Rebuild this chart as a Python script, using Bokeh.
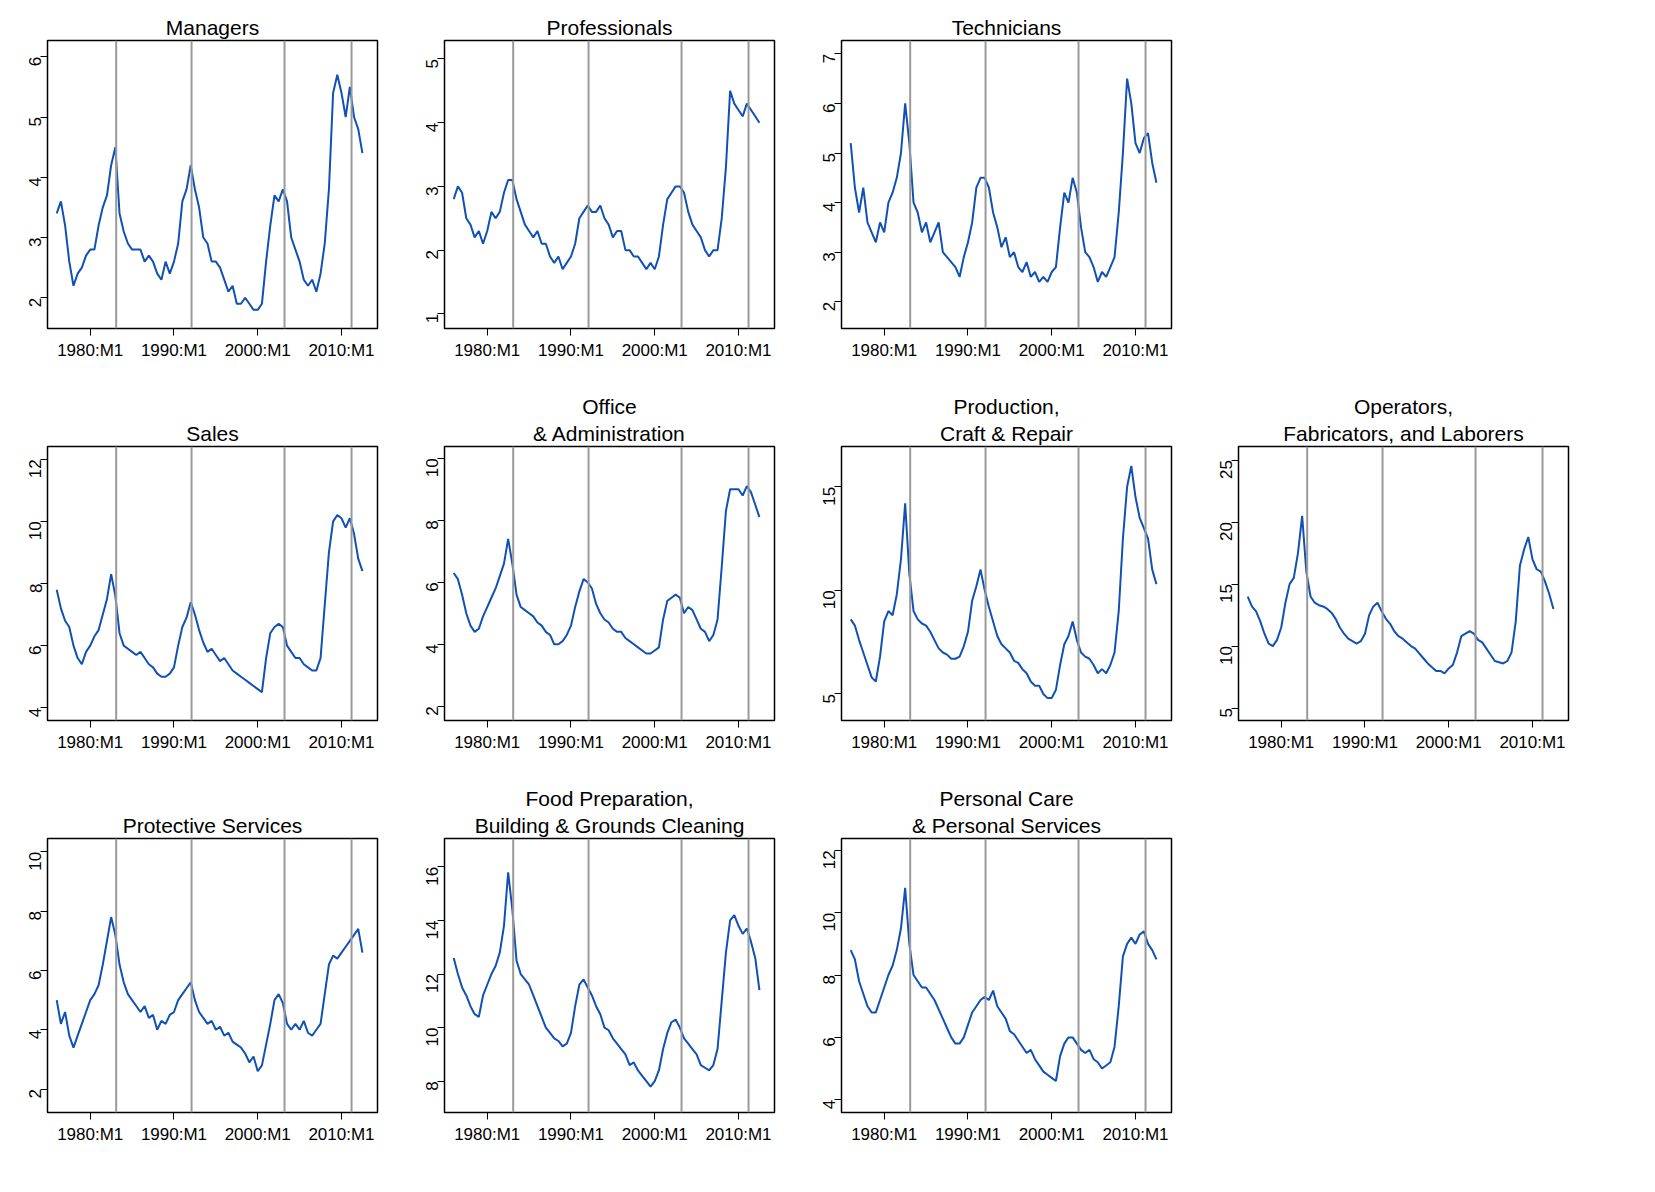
from math import pi

from bokeh.embed import file_html
from bokeh.layouts import gridplot
from bokeh.models import ColumnDataSource, FixedTicker, Span, Title
from bokeh.plotting import figure
from bokeh.resources import INLINE

# half-yearly readings, 1976.0 .. 2012.5
managers = [3.4, 3.6, 3.2, 2.6, 2.2, 2.4, 2.5, 2.7, 2.8, 2.8,
            3.2, 3.5, 3.7, 4.2, 4.5, 3.4, 3.1, 2.9, 2.8, 2.8,
            2.8, 2.6, 2.7, 2.6, 2.4, 2.3, 2.6, 2.4, 2.6, 2.9,
            3.6, 3.8, 4.2, 3.8, 3.5, 3.0, 2.9, 2.6, 2.6, 2.5,
            2.3, 2.1, 2.2, 1.9, 1.9, 2.0, 1.9, 1.8, 1.8, 1.9,
            2.6, 3.2, 3.7, 3.6, 3.8, 3.6, 3.0, 2.8, 2.6, 2.3,
            2.2, 2.3, 2.1, 2.4, 2.9, 3.8, 5.4, 5.7, 5.4, 5.0,
            5.5, 5.0, 4.8, 4.4]
professionals = [2.8, 3.0, 2.9, 2.5, 2.4, 2.2, 2.3, 2.1, 2.3, 2.6,
                 2.5, 2.6, 2.9, 3.1, 3.1, 2.8, 2.6, 2.4, 2.3, 2.2,
                 2.3, 2.1, 2.1, 1.9, 1.8, 1.9, 1.7, 1.8, 1.9, 2.1,
                 2.5, 2.6, 2.7, 2.6, 2.6, 2.7, 2.5, 2.4, 2.2, 2.3,
                 2.3, 2.0, 2.0, 1.9, 1.9, 1.8, 1.7, 1.8, 1.7, 1.9,
                 2.4, 2.8, 2.9, 3.0, 3.0, 2.9, 2.6, 2.4, 2.3, 2.2,
                 2.0, 1.9, 2.0, 2.0, 2.5, 3.3, 4.5, 4.3, 4.2, 4.1,
                 4.3, 4.2, 4.1, 4.0]
technicians = [5.2, 4.3, 3.8, 4.3, 3.6, 3.4, 3.2, 3.6, 3.4, 4.0,
               4.2, 4.5, 5.0, 6.0, 5.2, 4.0, 3.8, 3.4, 3.6, 3.2,
               3.4, 3.6, 3.0, 2.9, 2.8, 2.7, 2.5, 2.9, 3.2, 3.6,
               4.3, 4.5, 4.5, 4.3, 3.8, 3.5, 3.1, 3.3, 2.9, 3.0,
               2.7, 2.6, 2.8, 2.5, 2.6, 2.4, 2.5, 2.4, 2.6, 2.7,
               3.5, 4.2, 4.0, 4.5, 4.2, 3.5, 3.0, 2.9, 2.7, 2.4,
               2.6, 2.5, 2.7, 2.9, 3.8, 5.0, 6.5, 6.0, 5.2, 5.0,
               5.3, 5.4, 4.8, 4.4]
sales = [7.8, 7.2, 6.8, 6.6, 6.0, 5.6, 5.4, 5.8, 6.0, 6.3,
         6.5, 7.0, 7.5, 8.3, 7.6, 6.4, 6.0, 5.9, 5.8, 5.7,
         5.8, 5.6, 5.4, 5.3, 5.1, 5.0, 5.0, 5.1, 5.3, 6.0,
         6.6, 6.9, 7.4, 7.0, 6.5, 6.1, 5.8, 5.9, 5.7, 5.5,
         5.6, 5.4, 5.2, 5.1, 5.0, 4.9, 4.8, 4.7, 4.6, 4.5,
         5.6, 6.4, 6.6, 6.7, 6.6, 6.0, 5.8, 5.6, 5.6, 5.4,
         5.3, 5.2, 5.2, 5.6, 7.3, 9.0, 10.0, 10.2, 10.1, 9.8,
         10.1, 9.6, 8.8, 8.4]
office = [6.3, 6.1, 5.6, 5.0, 4.6, 4.4, 4.5, 4.9, 5.2, 5.5,
          5.8, 6.2, 6.6, 7.4, 6.6, 5.6, 5.2, 5.1, 5.0, 4.9,
          4.7, 4.6, 4.4, 4.3, 4.0, 4.0, 4.1, 4.3, 4.6, 5.2,
          5.7, 6.1, 6.0, 5.8, 5.3, 5.0, 4.8, 4.7, 4.5, 4.4,
          4.4, 4.2, 4.1, 4.0, 3.9, 3.8, 3.7, 3.7, 3.8, 3.9,
          4.8, 5.4, 5.5, 5.6, 5.5, 5.0, 5.2, 5.1, 4.8, 4.5,
          4.4, 4.1, 4.3, 4.8, 6.5, 8.3, 9.0, 9.0, 9.0, 8.8,
          9.1, 8.9, 8.5, 8.1]
production = [8.6, 8.3, 7.6, 7.0, 6.4, 5.8, 5.6, 6.8, 8.5, 9.0,
              8.8, 9.8, 11.5, 14.2, 10.8, 9.0, 8.6, 8.4, 8.3, 8.0,
              7.6, 7.2, 7.0, 6.9, 6.7, 6.7, 6.8, 7.3, 8.0, 9.5,
              10.2, 11.0, 10.0, 9.2, 8.5, 7.8, 7.4, 7.2, 7.0, 6.6,
              6.5, 6.2, 6.0, 5.6, 5.4, 5.4, 5.0, 4.8, 4.8, 5.2,
              6.4, 7.4, 7.8, 8.5, 7.6, 7.0, 6.8, 6.7, 6.4, 6.0,
              6.2, 6.0, 6.4, 7.0, 9.0, 12.5, 15.0, 16.0, 14.5, 13.5,
              13.0, 12.5, 11.0, 10.3]
operators = [14.0, 13.2, 12.8, 12.0, 11.0, 10.2, 10.0, 10.5, 11.5, 13.5,
             15.0, 15.5, 17.5, 20.5, 16.0, 14.0, 13.5, 13.3, 13.2, 13.0,
             12.7, 12.2, 11.5, 11.0, 10.6, 10.4, 10.2, 10.4, 11.0, 12.5,
             13.2, 13.5, 12.8, 12.2, 11.8, 11.2, 10.8, 10.6, 10.3, 10.0,
             9.8, 9.4, 9.0, 8.6, 8.3, 8.0, 8.0, 7.8, 8.2, 8.5,
             9.5, 10.8, 11.0, 11.2, 11.0, 10.5, 10.3, 9.8, 9.3, 8.8,
             8.7, 8.6, 8.8, 9.5, 12.0, 16.5, 17.8, 18.8, 17.0, 16.2,
             16.0, 15.2, 14.2, 13.0]
protective = [5.0, 4.2, 4.6, 3.8, 3.4, 3.8, 4.2, 4.6, 5.0, 5.2,
              5.5, 6.2, 7.0, 7.8, 7.2, 6.2, 5.6, 5.2, 5.0, 4.8,
              4.6, 4.8, 4.4, 4.5, 4.0, 4.3, 4.2, 4.5, 4.6, 5.0,
              5.2, 5.4, 5.6, 5.0, 4.6, 4.4, 4.2, 4.3, 4.0, 4.1,
              3.8, 3.9, 3.6, 3.5, 3.4, 3.2, 2.9, 3.1, 2.6, 2.8,
              3.5, 4.2, 5.0, 5.2, 4.9, 4.2, 4.0, 4.2, 4.0, 4.3,
              3.9, 3.8, 4.0, 4.2, 5.2, 6.2, 6.5, 6.4, 6.6, 6.8,
              7.0, 7.2, 7.4, 6.6]
food = [12.6, 12.0, 11.5, 11.2, 10.8, 10.5, 10.4, 11.2, 11.6, 12.0,
        12.3, 12.8, 13.8, 15.8, 14.4, 12.5, 12.0, 11.8, 11.6, 11.2,
        10.8, 10.4, 10.0, 9.8, 9.6, 9.5, 9.3, 9.4, 9.8, 10.8,
        11.6, 11.8, 11.5, 11.2, 10.8, 10.5, 10.0, 9.9, 9.6, 9.4,
        9.2, 9.0, 8.6, 8.7, 8.4, 8.2, 8.0, 7.8, 8.0, 8.4,
        9.2, 9.8, 10.2, 10.3, 10.0, 9.6, 9.4, 9.2, 9.0, 8.6,
        8.5, 8.4, 8.6, 9.2, 11.0, 12.8, 14.0, 14.2, 13.8, 13.5,
        13.7, 13.2, 12.6, 11.4]
personal = [8.8, 8.5, 7.8, 7.4, 7.0, 6.8, 6.8, 7.2, 7.6, 8.0,
            8.3, 8.8, 9.5, 10.8, 9.0, 8.0, 7.8, 7.6, 7.6, 7.4,
            7.2, 6.9, 6.6, 6.3, 6.0, 5.8, 5.8, 6.0, 6.4, 6.8,
            7.0, 7.2, 7.3, 7.2, 7.5, 7.0, 6.8, 6.6, 6.2, 6.1,
            5.9, 5.7, 5.5, 5.6, 5.3, 5.1, 4.9, 4.8, 4.7, 4.6,
            5.4, 5.8, 6.0, 6.0, 5.8, 5.6, 5.5, 5.6, 5.3, 5.2,
            5.0, 5.1, 5.2, 5.7, 7.0, 8.6, 9.0, 9.2, 9.0, 9.3,
            9.4, 9.0, 8.8, 8.5]

recessions = [1983.1, 1992.1, 2003.2, 2011.2]
x_ticks = [1980, 1990, 2000, 2010]
x_tick_labels = ["1980:M1", "1990:M1", "2000:M1", "2010:M1"]

panels = [
    (["Managers"], managers, (1.49, 6.27), [2, 3, 4, 5, 6]),
    (["Professionals"], professionals, (0.77, 5.29), [1, 2, 3, 4, 5]),
    (["Technicians"], technicians, (1.46, 7.27), [2, 3, 4, 5, 6, 7]),
    None,
    (["Sales"], sales, (3.59, 12.41), [4, 6, 8, 10, 12]),
    (["Office", "& Administration"], office, (1.54, 10.38), [2, 4, 6, 8, 10]),
    (["Production,", "Craft & Repair"], production, (3.72, 16.94), [5, 10, 15]),
    (["Operators,", "Fabricators, and Laborers"], operators, (4.0, 26.1), [5, 10, 15, 20, 25]),
    (["Protective Services"], protective, (1.21, 10.45), [2, 4, 6, 8, 10]),
    (["Food Preparation,", "Building & Grounds Cleaning"], food, (6.83, 17.06), [8, 10, 12, 14, 16]),
    (["Personal Care", "& Personal Services"], personal, (3.59, 12.38), [4, 6, 8, 10, 12]),
    None,
]


def style_title(t):
    t.align = "center"
    t.text_font_size = "21px"
    t.text_font_style = "normal"
    t.text_font = "Liberation Sans"
    t.text_color = "black"
    t.standoff = 0


def make_panel(titles, values, y_range, y_ticks):
    # the figure's own title ends up outermost; extra titles stack towards the frame
    p = figure(width=397, height=392, x_range=(1974.9, 2014.3), y_range=y_range,
               title=titles[0], output_backend="svg", toolbar_location=None,
               min_border_left=47, min_border_right=20, min_border_top=40,
               min_border_bottom=64)
    style_title(p.title)
    if len(titles) == 1:
        p.title.standoff = 4
    for i, line in enumerate(reversed(titles[1:])):
        t = Title(text=line)
        style_title(t)
        if i == 0:
            t.standoff = 4
        p.add_layout(t, "above")

    p.grid.grid_line_color = None
    p.outline_line_color = "black"
    p.outline_line_width = 1.5
    p.background_fill_color = "white"

    for yr in recessions:
        p.add_layout(Span(location=yr, dimension="height", line_color="#9a9a9a", line_width=2))

    src = ColumnDataSource(dict(x=[1976 + 0.5 * i for i in range(len(values))], y=values))
    p.line("x", "y", source=src, line_color="#1150b5", line_width=2)

    p.xaxis.ticker = FixedTicker(ticks=x_ticks)
    p.xaxis.major_label_overrides = dict(zip(x_ticks, x_tick_labels))
    p.yaxis.ticker = FixedTicker(ticks=y_ticks)
    p.yaxis.major_label_orientation = pi / 2
    for ax in (p.xaxis, p.yaxis):
        ax.major_tick_line_color = "black"
        ax.major_tick_out = 7
        ax.major_tick_in = 0
        ax.minor_tick_line_color = None
        ax.major_label_text_font_size = "17px"
        ax.major_label_text_font = "Liberation Sans"
        ax.major_label_text_color = "black"
    p.axis.axis_line_color = None
    return p


figs = [make_panel(*spec) if spec else None for spec in panels]
grid = gridplot(figs, ncols=4, toolbar_location=None)

open("out.html", "w").write(file_html(grid, INLINE))
